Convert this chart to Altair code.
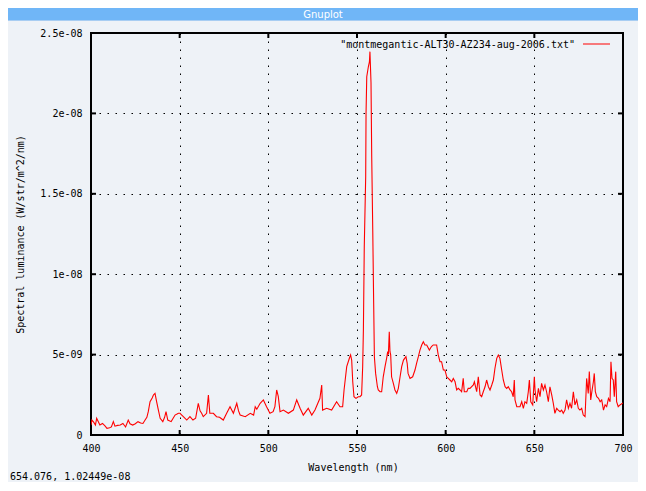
import altair as alt
import pandas as pd

# ---------------- data ----------------
wavelength = [
    400.0, 400.5, 401.5, 402.5, 403.2, 404.0, 405.0, 406.5, 408.0, 409.0,
    410.5, 411.5, 412.6, 413.5, 415.0, 416.5, 418.0, 419.5, 421.0, 422.0,
    423.5, 425.0, 426.5, 428.0, 429.3, 430.5, 431.5, 432.3, 433.3, 434.5,
    435.2, 436.1, 437.0, 438.0, 439.0, 440.5, 441.5, 442.3, 443.3, 445.2,
    447.4, 448.5, 449.3, 450.2, 451.2, 452.5, 454.0, 455.8, 457.5, 459.0,
    460.5, 461.5, 462.4, 463.3, 465.2, 466.2, 467.0, 469.0, 470.8, 472.5,
    474.6, 476.5, 478.4, 480.3, 482.2, 483.2, 484.1, 487.0, 489.8, 491.7,
    492.6, 493.5, 495.4, 497.2, 499.0, 500.9, 502.7, 503.7, 504.7, 505.6,
    506.6, 508.5, 511.3, 514.1, 516.0, 517.9, 519.7, 522.5, 524.5, 526.3,
    529.1, 530.1, 530.6, 532.9, 535.7, 538.5, 540.4, 541.9, 542.7, 544.2,
    545.7, 546.4, 547.0, 547.6, 548.3, 549.4, 550.7, 551.7, 552.6, 553.2,
    553.6, 554.1, 554.9, 555.1, 555.5, 556.4, 557.0, 557.3, 557.9, 558.3,
    558.9, 559.4, 559.8, 560.5, 561.5, 562.0, 563.0, 563.9, 564.8, 565.8,
    566.7, 567.3, 567.7, 568.2, 568.6, 569.0, 569.5, 570.5, 571.4, 572.4,
    573.3, 574.3, 575.2, 576.2, 577.6, 578.3, 578.8, 579.9, 581.4, 582.7,
    583.6, 584.6, 585.5, 586.5, 587.4, 588.3, 589.3, 590.8, 592.0, 593.0,
    594.9, 595.8, 596.8, 597.7, 598.7, 599.6, 600.6, 602.4, 603.4, 604.3,
    605.3, 606.2, 607.1, 608.1, 609.0, 609.9, 610.5, 611.9, 612.7, 613.7,
    615.6, 616.2, 617.5, 618.4, 619.4, 620.3, 621.2, 622.2, 623.1, 624.1,
    625.0, 626.0, 626.9, 627.8, 628.8, 629.7, 630.6, 631.6, 632.5, 633.5,
    634.4, 635.3, 636.3, 637.2, 638.1, 638.7, 639.1, 640.1, 641.9, 642.9,
    643.8, 644.7, 645.7, 646.6, 647.2, 648.0, 649.1, 650.0, 650.4, 651.3,
    652.3, 653.2, 654.1, 655.1, 656.0, 656.9, 657.9, 658.8, 659.8, 660.7,
    661.6, 662.6, 663.5, 664.5, 665.4, 666.3, 667.3, 668.2, 669.2, 670.1,
    671.0, 672.0, 672.9, 673.9, 674.8, 675.7, 676.7, 677.6, 678.6, 679.5,
    680.4, 681.0, 681.8, 682.3, 683.3, 683.8, 684.4, 685.2, 686.2, 687.1,
    688.0, 689.0, 689.9, 690.8, 691.8, 692.7, 693.2, 693.8, 694.5, 695.1,
    695.9, 696.4, 697.3, 698.3, 700.0,
]

luminance = [
    0.62e-9, 0.93e-9, 0.80e-9, 0.62e-9, 1.04e-9, 0.85e-9, 0.62e-9, 0.72e-9, 0.55e-9, 0.41e-9,
    0.45e-9, 0.50e-9, 0.83e-9, 0.55e-9, 0.60e-9, 0.62e-9, 0.72e-9, 0.50e-9, 0.93e-9, 0.70e-9,
    0.62e-9, 0.70e-9, 0.83e-9, 0.75e-9, 0.72e-9, 0.93e-9, 1.10e-9, 1.45e-9, 2.07e-9, 2.30e-9,
    2.49e-9, 2.59e-9, 2.07e-9, 1.55e-9, 1.04e-9, 0.83e-9, 1.10e-9, 1.45e-9, 0.93e-9, 0.83e-9,
    1.24e-9, 1.30e-9, 1.35e-9, 1.35e-9, 1.24e-9, 1.10e-9, 0.93e-9, 1.14e-9, 0.93e-9, 1.04e-9,
    1.97e-9, 1.50e-9, 1.35e-9, 1.14e-9, 1.35e-9, 2.49e-9, 1.35e-9, 1.35e-9, 1.14e-9, 1.10e-9,
    0.93e-9, 1.35e-9, 1.76e-9, 1.35e-9, 1.97e-9, 1.50e-9, 1.24e-9, 1.14e-9, 1.35e-9, 1.24e-9,
    1.76e-9, 1.60e-9, 1.97e-9, 2.18e-9, 1.76e-9, 1.35e-9, 1.45e-9, 1.76e-9, 2.80e-9, 2.40e-9,
    1.45e-9, 1.55e-9, 1.35e-9, 1.55e-9, 2.18e-9, 1.66e-9, 1.24e-9, 1.66e-9, 1.24e-9, 1.55e-9,
    2.28e-9, 3.11e-9, 1.55e-9, 1.66e-9, 1.55e-9, 2.07e-9, 1.76e-9, 1.76e-9, 2.80e-9, 4.25e-9,
    4.77e-9, 4.98e-9, 4.66e-9, 3.31e-9, 2.38e-9, 2.28e-9, 2.38e-9, 2.38e-9, 2.49e-9, 4.25e-9,
    6.50e-9, 11.7e-9, 16.06e-9, 20.0e-9, 22.28e-9, 22.9e-9, 23.2e-9, 23.84e-9, 21.9e-9, 17.3e-9,
    12.6e-9, 8.2e-9, 4.87e-9, 3.83e-9, 3.0e-9, 2.8e-9, 2.69e-9, 2.69e-9, 3.62e-9, 4.25e-9,
    4.77e-9, 5.18e-9, 5.0e-9, 6.42e-9, 5.18e-9, 4.98e-9, 3.62e-9, 3.21e-9, 2.8e-9, 2.59e-9,
    2.9e-9, 3.62e-9, 4.25e-9, 4.66e-9, 4.87e-9, 4.46e-9, 3.83e-9, 3.52e-9, 3.62e-9, 4.04e-9,
    4.46e-9, 4.87e-9, 5.28e-9, 5.6e-9, 5.8e-9, 5.6e-9, 5.6e-9, 5.28e-9, 5.5e-9, 5.6e-9,
    5.6e-9, 4.98e-9, 4.56e-9, 4.56e-9, 4.04e-9, 4.04e-9, 3.62e-9, 3.42e-9, 3.31e-9, 3.52e-9,
    3.31e-9, 2.80e-9, 2.90e-9, 2.80e-9, 2.69e-9, 3.52e-9, 2.69e-9, 2.69e-9, 2.90e-9, 2.90e-9,
    3.11e-9, 3.31e-9, 2.69e-9, 3.62e-9, 2.49e-9, 2.38e-9, 2.69e-9, 3.0e-9, 3.42e-9, 3.0e-9,
    2.8e-9, 3.11e-9, 3.42e-9, 4.15e-9, 4.77e-9, 4.98e-9, 4.77e-9, 4.04e-9, 3.42e-9, 3.0e-9,
    2.9e-9, 3.0e-9, 2.8e-9, 2.69e-9, 2.38e-9, 3.42e-9, 2.18e-9, 1.76e-9, 1.76e-9, 2.07e-9,
    1.66e-9, 2.07e-9, 1.97e-9, 2.69e-9, 3.42e-9, 2.07e-9, 1.87e-9, 3.62e-9, 2.8e-9, 2.07e-9,
    2.9e-9, 2.38e-9, 3.21e-9, 2.8e-9, 3.11e-9, 2.69e-9, 2.07e-9, 3.0e-9, 2.49e-9, 1.97e-9,
    1.35e-9, 1.66e-9, 1.55e-9, 1.45e-9, 1.55e-9, 1.35e-9, 1.55e-9, 2.18e-9, 1.66e-9, 1.97e-9,
    1.66e-9, 2.69e-9, 1.87e-9, 2.18e-9, 1.66e-9, 1.55e-9, 1.66e-9, 1.24e-9, 1.14e-9, 3.52e-9,
    2.59e-9, 3.94e-9, 2.18e-9, 2.59e-9, 3.31e-9, 3.83e-9, 2.69e-9, 2.38e-9, 2.28e-9, 2.07e-9,
    2.18e-9, 1.55e-9, 1.87e-9, 1.76e-9, 2.28e-9, 2.07e-9, 4.56e-9, 3.52e-9, 3.42e-9, 2.38e-9,
    3.94e-9, 2.07e-9, 1.76e-9, 1.87e-9, 2.0e-9,
]

x_ticks = [400, 450, 500, 550, 600, 650, 700]
y_ticks = [0, 5e-9, 1e-8, 1.5e-8, 2e-8, 2.5e-8]

series_name = '"montmegantic-ALT30-AZ234-aug-2006.txt"'
window_title = "Gnuplot"
status_text = "654.076,  1.02449e-08"
x_title = "Wavelength (nm)"
y_title = "Spectral luminance (W/str/m^2/nm)"

# ---------------- layout ----------------
W, H = 532, 402
FONT = "DejaVu Sans Mono"
BG = "#eef2f7"

df = pd.DataFrame({"nm": wavelength, "lum": luminance})
xt = pd.DataFrame({"nm": x_ticks})
yt = pd.DataFrame({"lum": y_ticks})
one = pd.DataFrame({"a": [0]})

xscale = alt.Scale(domain=[400, 700], nice=False, zero=False)
yscale = alt.Scale(domain=[0, 2.5e-8], nice=False)

x_axis = alt.Axis(values=x_ticks, title=x_title, format="d", labelFlush=False,
                  titleX=W / 2 - 4, titleY=32, titleBaseline="middle",
                  titleAlign="center", labelPadding=8)
y_axis = alt.Axis(values=y_ticks, title=y_title, labelFlush=False,
                  labelExpr="datum.value == 0 ? '0' : replace(format(datum.value, '~e'), 'e-', 'e-0')",
                  titleX=-71, titleY=H / 2, titleBaseline="middle",
                  titleAlign="center", labelPadding=9)

X = alt.X("nm:Q", scale=xscale, axis=x_axis)
Y = alt.Y("lum:Q", scale=yscale, axis=y_axis)

line = alt.Chart(df).mark_line(color="#ff0000", strokeWidth=1.1, clip=True).encode(x=X, y=Y)

tick_len = 5
xt_bottom = alt.Chart(xt).mark_rule(color="black", strokeWidth=2).encode(
    x=X, y=alt.value(H), y2=alt.value(H - tick_len))
xt_top = alt.Chart(xt).mark_rule(color="black", strokeWidth=2).encode(
    x=X, y=alt.value(0), y2=alt.value(tick_len))
yt_left = alt.Chart(yt).mark_rule(color="black", strokeWidth=2).encode(
    y=Y, x=alt.value(0), x2=alt.value(tick_len))
yt_right = alt.Chart(yt).mark_rule(color="black", strokeWidth=2).encode(
    y=Y, x=alt.value(W), x2=alt.value(W - tick_len))

# key (gnuplot style: text, then sample line)
key_text = alt.Chart(one).mark_text(align="right", baseline="middle", font=FONT,
                                    fontSize=10, color="black").encode(
    x=alt.value(484), y=alt.value(12), text=alt.value(series_name))
key_line = alt.Chart(one).mark_rule(color="#ff0000", strokeWidth=1).encode(
    x=alt.value(492), x2=alt.value(519), y=alt.value(11))

# window chrome
title_bar = alt.Chart(one).mark_rect(color="#70b6f7").encode(
    x=alt.value(-83), x2=alt.value(W + 15), y=alt.value(-25), y2=alt.value(-13))
title_bar_line = alt.Chart(one).mark_rule(color="#a8cdf2", strokeWidth=1).encode(
    x=alt.value(-83), x2=alt.value(W + 15), y=alt.value(-12.5))
title_txt = alt.Chart(one).mark_text(align="center", baseline="middle", font="DejaVu Sans",
                                     fontSize=10, color="white").encode(
    x=alt.value(232), y=alt.value(-18.5), text=alt.value(window_title))
status = alt.Chart(one).mark_text(align="left", baseline="middle", font=FONT,
                                  fontSize=10, color="black").encode(
    x=alt.value(-81), y=alt.value(444), text=alt.value(status_text))

chart = alt.layer(
    line, xt_bottom, xt_top, yt_left, yt_right, key_text, key_line,
    title_bar, title_bar_line, title_txt, status,
).properties(
    width=W, height=H,
    autosize=alt.AutoSizeParams(type="none"),
    padding={"left": 83, "top": 25, "right": 15, "bottom": 47},
    background=BG,
).configure_view(
    stroke="black", strokeWidth=2, fill=BG,
).configure_axis(
    domain=False, ticks=False, grid=True, gridColor="black", gridDash=[1.5, 6.5],
    gridWidth=1, gridOpacity=1,
    labelFont=FONT, labelFontSize=10, labelColor="black",
    titleFont=FONT, titleFontSize=10, titleColor="black", titleFontWeight="normal",
)

chart.save("out.html", embed_options={"renderer": "svg", "actions": False})
